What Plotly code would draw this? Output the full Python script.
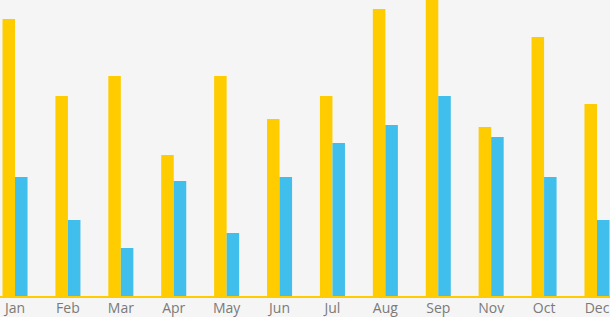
import plotly.graph_objects as go

months = ["Jan", "Feb", "Mar", "Apr", "May", "Jun", "Jul", "Aug", "Sep", "Nov", "Oct", "Dec"]
series_yellow = [27.7, 20.0, 22.0, 14.1, 22.0, 17.7, 20.0, 28.7, 31.0, 16.9, 25.9, 19.2]
series_blue = [11.9, 7.6, 4.8, 11.5, 6.3, 11.9, 15.3, 17.1, 20.0, 15.9, 11.9, 7.6]

YELLOW = "#FFCC00"
BLUE = "#40BEEC"
BG = "#F5F5F5"

fig = go.Figure()
fig.add_trace(go.Bar(x=months, y=series_yellow, marker=dict(color=YELLOW, line=dict(width=0)), name="A"))
fig.add_trace(go.Bar(x=months, y=series_blue, marker=dict(color=BLUE, line=dict(width=0)), name="B"))

fig.update_layout(
    width=610, height=317,
    margin=dict(l=0, r=0, t=0, b=21),
    paper_bgcolor=BG, plot_bgcolor=BG,
    barmode="group", bargap=0.527, bargroupgap=0,
    showlegend=False,
    xaxis=dict(
        type="category", categoryorder="array", categoryarray=months,
        range=[-0.284, 11.246],
        showgrid=False, zeroline=False,
        showline=True, linecolor=YELLOW, linewidth=2,
        ticks="", ticklabelstandoff=-2,
        tickfont=dict(family="Open Sans", size=14, color="#7a7a7a"),
    ),
    yaxis=dict(range=[0, 29.6], visible=False, showgrid=False, zeroline=False),
)

fig.write_html("out.html")
